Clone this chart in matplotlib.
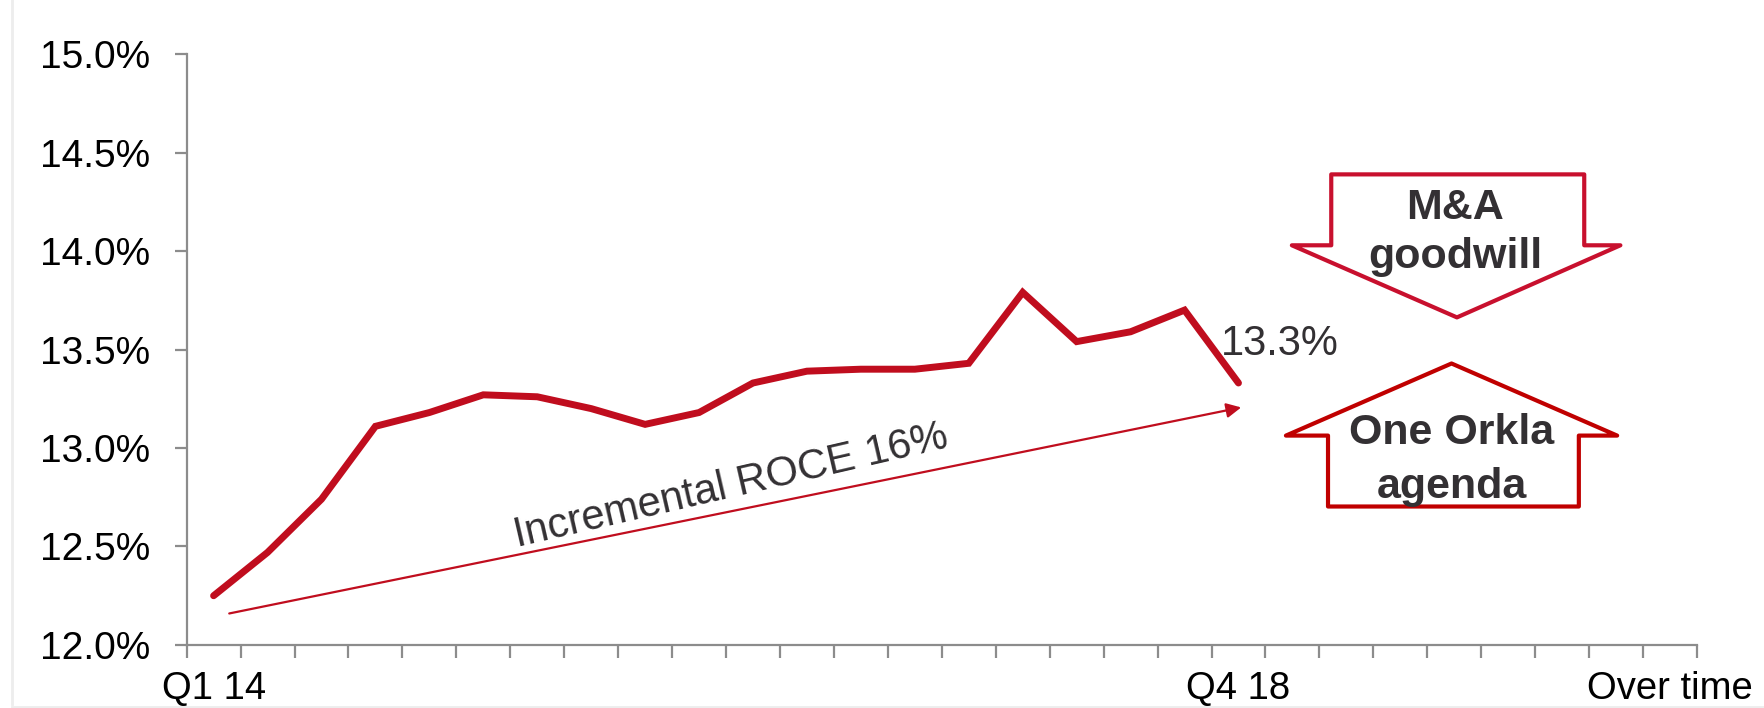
import matplotlib
matplotlib.use("Agg")
import matplotlib.pyplot as plt
import numpy as np
from matplotlib.patches import Polygon
from matplotlib.lines import Line2D

# ROCE per quarter, Q1 14 .. Q4 18
roce = [12.25, 12.47, 12.74, 13.11, 13.18, 13.27, 13.26, 13.20, 13.12, 13.18,
        13.33, 13.39, 13.40, 13.40, 13.43, 13.79, 13.54, 13.59, 13.70, 13.33]
n_slots = 28
tick_labels = {0: "Q1 14", 19: "Q4 18", 27: "Over time"}
yticks = [12.0, 12.5, 13.0, 13.5, 14.0, 14.5, 15.0]

red = "#C00D1E"
grey_txt = "#333033"
axis_col = "#8C8C8C"

plt.rcParams['font.family'] = ['Liberation Sans', 'DejaVu Sans']

fig = plt.figure(figsize=(17.64, 7.08), dpi=100)
ax = fig.add_axes([0.1058, 0.089, 0.8562, 0.8347])

# faint screenshot frame on left / bottom
fig.add_artist(Line2D([0.007, 0.007], [0.005, 1], transform=fig.transFigure,
                      color='#EDEDED', lw=2))
fig.add_artist(Line2D([0.007, 1], [0.002, 0.002], transform=fig.transFigure,
                      color='#EDEDED', lw=2))

x = np.arange(len(roce))
ax.plot(x, roce, color=red, lw=5, solid_joinstyle='miter', solid_capstyle='round')

ax.set_xlim(-0.5, n_slots - 0.5)
ax.set_ylim(12.0, 15.0)

for s in ['top', 'right']:
    ax.spines[s].set_visible(False)
for s in ['left', 'bottom']:
    ax.spines[s].set_color(axis_col)
    ax.spines[s].set_linewidth(1.6)

ax.set_yticks(yticks)
ax.set_yticklabels([f"{v:.1f}%" for v in yticks])
ax.tick_params(axis='y', length=9, width=1.6, color=axis_col, pad=17,
               labelsize=28, labelcolor='black')

ax.set_xticks(np.arange(-0.5, n_slots, 1.0))
ax.set_xticklabels([])
ax.tick_params(axis='x', which='major', length=9, width=1.6, color=axis_col)
ax.set_xticks(list(tick_labels.keys()), minor=True)
ax.set_xticklabels(list(tick_labels.values()), minor=True)
ax.tick_params(axis='x', which='minor', length=0, pad=19, labelsize=27.5,
               labelcolor='black')

# trend arrow
ax.annotate('', xy=(19.05, 13.206), xytext=(0.29, 12.16),
            arrowprops=dict(arrowstyle='-|>', color=red, lw=1.6,
                            mutation_scale=22, shrinkA=0, shrinkB=0))
ax.text(9.6, 12.806, "Incremental ROCE 16%", rotation=13, rotation_mode='anchor',
        ha='center', va='center', fontsize=30, color=grey_txt)

ax.text(19.76, 13.526, "13.3%", ha='center', va='center', fontsize=30, color=grey_txt)

# block arrows
down = [(20.72, 14.389), (25.41, 14.389), (25.41, 14.029), (26.08, 14.029),
        (23.05, 13.663), (19.99, 14.029), (20.72, 14.029)]
up = [(20.66, 12.703), (25.31, 12.703), (25.31, 13.063), (26.02, 13.063),
      (22.95, 13.429), (19.88, 13.063), (20.66, 13.063)]
ax.add_patch(Polygon(down, closed=True, facecolor='white', edgecolor='#C8102E',
                     lw=3, joinstyle='round', zorder=3))
ax.add_patch(Polygon(up, closed=True, facecolor='white', edgecolor='#C00000',
                     lw=3, joinstyle='round', zorder=3))

ax.text(23.02, 14.217, "M&A", ha='center', va='center', fontsize=31,
        fontweight='bold', color=grey_txt, zorder=4)
ax.text(23.02, 13.971, "goodwill", ha='center', va='center', fontsize=31,
        fontweight='bold', color=grey_txt, zorder=4)
ax.text(22.95, 13.074, "One Orkla", ha='center', va='center', fontsize=31,
        fontweight='bold', color=grey_txt, zorder=4)
ax.text(22.95, 12.80, "agenda", ha='center', va='center', fontsize=31,
        fontweight='bold', color=grey_txt, zorder=4)

fig.savefig("out.png", dpi=100)
